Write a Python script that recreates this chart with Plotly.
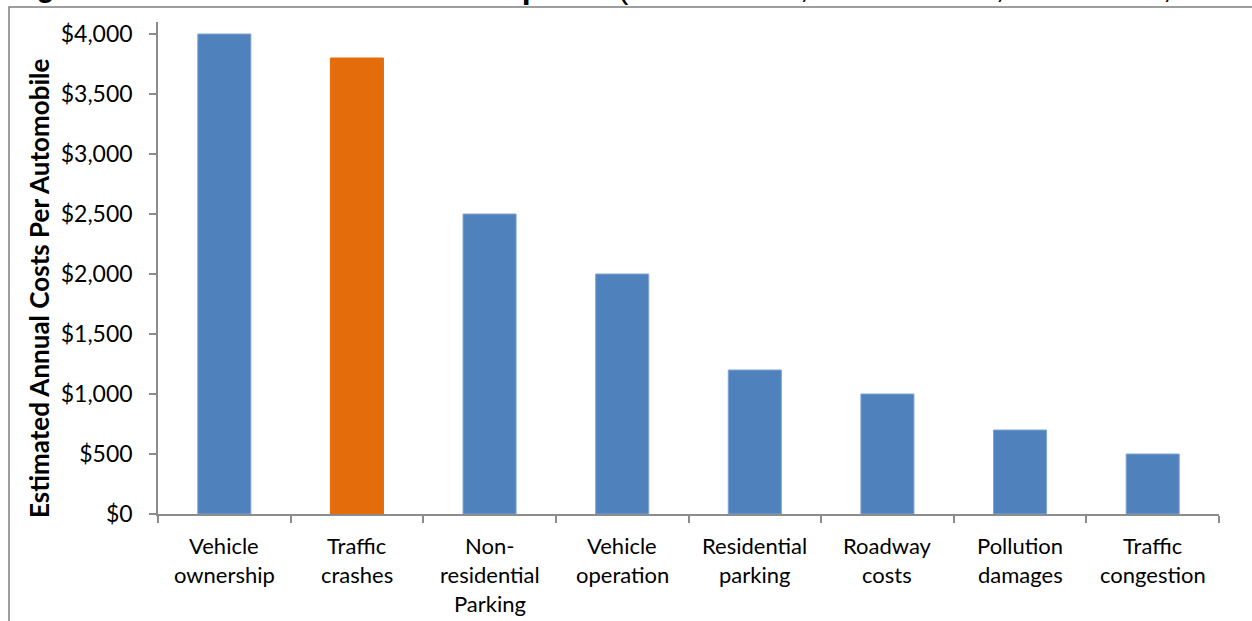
import plotly.graph_objects as go

categories = ["Vehicle<br>ownership", "Traffic<br>crashes", "Non-<br>residential<br>Parking",
              "Vehicle<br>operation", "Residential<br>parking", "Roadway<br>costs",
              "Pollution<br>damages", "Traffic<br>congestion"]
values = [4000, 3800, 2500, 2000, 1200, 1000, 700, 500]
highlight = [False, True, False, False, False, False, False, False]
y_title = "Estimated Annual Costs Per Automobile"
fig_title_a = "Figure 20"
fig_title_b = "<b>Automobile Costs Compared</b> (FHWA 2015; Hoeckelman, et al. 2013; Litman 2019)"

W, H = 1252, 621
L, R, T, B = 158, 33, 22, 107
ph = H - T - B
pw = W - L - R
ymax = 4100

def py(p):
    return (H - B - p) / ph

def px(p):
    return (p - L) / pw

blue = "#4F81BD"
orange = "#E46C0A"
colors = [orange if h else blue for h in highlight]
lines = ["#E46C0A" if h else "#7FA3D6" for h in highlight]

fig = go.Figure()
fig.add_trace(go.Bar(x=categories, y=values, width=0.4,
                     marker=dict(color=colors, line=dict(color=lines, width=1))))

font = "Lato, 'Open Sans', sans-serif"
axcol = "#8C8C8C"

annotations = []
line_y = [545, 574, 603]
for c in categories:
    for i, part in enumerate(c.split("<br>")):
        annotations.append(dict(x=c, xref="x", y=py(line_y[i]), yref="paper", text=part,
                                showarrow=False, xanchor="center", yanchor="middle",
                                font=dict(family=font, size=22, color="#000000")))

annotations.append(dict(x=px(39), xref="paper", y=py(289), yref="paper", text="<b>" + y_title + "</b>",
                        textangle=-90, showarrow=False, xanchor="center", yanchor="middle",
                        font=dict(family=font, size=26, color="#000000")))
annotations.append(dict(x=px(9), xref="paper", y=py(-13), yref="paper", text="<b>" + fig_title_a + "</b>",
                        showarrow=False, xanchor="left", yanchor="middle",
                        font=dict(family="Liberation Sans, Arial", size=29, color="#000000")))
annotations.append(dict(x=px(166), xref="paper", y=py(-13), yref="paper", text=fig_title_b,
                        showarrow=False, xanchor="left", yanchor="middle",
                        font=dict(family="Liberation Sans, Arial", size=32, color="#000000")))

fig.update_layout(
    width=W, height=H,
    margin=dict(l=L, r=R, t=T, b=B, pad=0),
    paper_bgcolor="white", plot_bgcolor="white",
    showlegend=False,
    bargap=0.6,
    annotations=annotations,
    shapes=[dict(type="rect", xref="paper", yref="paper", x0=px(9), x1=1.2, y0=-0.5, y1=py(7),
                 line=dict(color="#7F7F7F", width=1.5), fillcolor="rgba(0,0,0,0)", layer="above")],
)
fig.update_xaxes(showticklabels=False, ticks="outside", ticklen=7, tickcolor=axcol, tickwidth=1.5,
                 tickson="boundaries", showline=True, linecolor=axcol, linewidth=1.5,
                 showgrid=False, zeroline=False)
fig.update_yaxes(range=[0, ymax], dtick=500, tick0=0, tickprefix="$", tickformat=",.0f",
                 ticks="outside", ticklen=7, tickcolor=axcol, tickwidth=1.5,
                 showline=True, linecolor=axcol, linewidth=1.5, showgrid=False, zeroline=False,
                 ticklabelstandoff=12,
                 tickfont=dict(family=font, size=23, color="#000000"))

fig.write_html("out.html", config={"displayModeBar": False},
               post_script="document.body.style.margin='0';")
